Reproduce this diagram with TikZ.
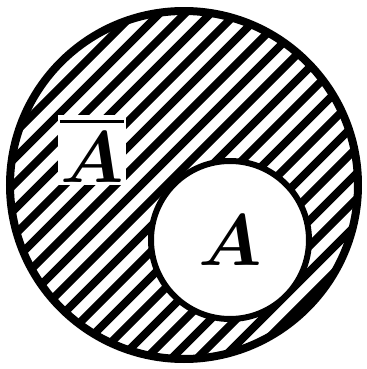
\documentclass[tikz,border=0pt]{standalone}
\usepackage{amsmath,amssymb}
\usepackage{tikz}
\usetikzlibrary{calc,positioning}

\tikzset{
  hatch/.style={line width=0.78mm, line cap=round},
  setlabel/.style={font=\fontsize{22}{24}\selectfont\boldmath},
}

\begin{document}
\begin{tikzpicture}[x=1mm,y=1mm]
		\useasboundingbox (0,0) rectangle (36.7,36.9);
		
		% hatching of the complement
		\begin{scope}
			\clip (18.4,18.4) circle (17.4);
			\foreach \c in {-40,-37.45,...,40}
				\draw[hatch] (\c-5,-5) -- (\c+45,45);
		\end{scope}
		
		\node[circle, draw, line width=0.8mm, minimum size=34.8mm] (U) at (18.4,18.4) {};
		\node[circle, draw, line width=0.6mm, fill=white, minimum size=15.8mm, setlabel] (A) at (23.0,12.9) {$A$};
		
		\node[fill=white, inner sep=0.25mm, setlabel] (Abar) at (9.2,21.9) {$\overline{A}$};
	\end{tikzpicture}
\end{document}
